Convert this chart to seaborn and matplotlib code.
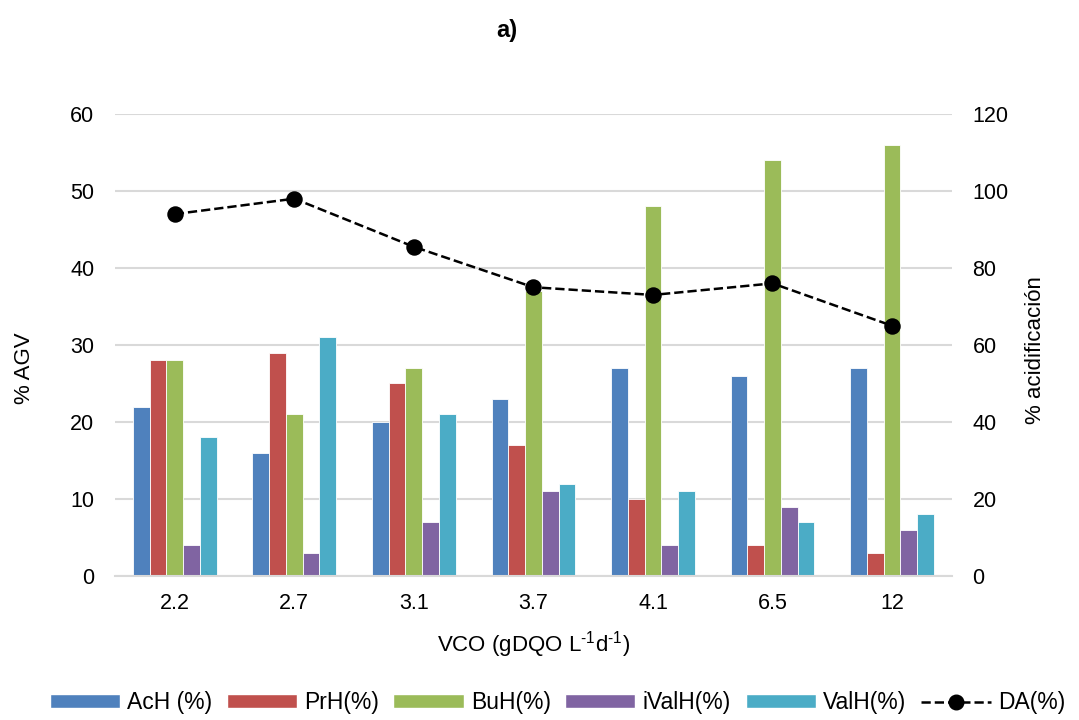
import pandas as pd
import matplotlib
matplotlib.use('Agg')
import matplotlib.pyplot as plt
import seaborn as sns
from matplotlib.patches import Patch
from matplotlib.lines import Line2D

# Datos
vco = ['2.2', '2.7', '3.1', '3.7', '4.1', '6.5', '12']
ach = [22, 16, 20, 23, 27, 26, 27]
prh = [28, 29, 25, 17, 10, 4, 3]
buh = [28, 21, 27, 37, 48, 54, 56]
ivalh = [4, 3, 7, 11, 4, 9, 6]
valh = [18, 31, 21, 12, 11, 7, 8]
da = [94, 98, 85.5, 75, 73, 76, 65]

series = ['AcH (%)', 'PrH(%)', 'BuH(%)', 'iValH(%)', 'ValH(%)']
colores = ['#4F81BD', '#C0504D', '#9BBB59', '#8064A2', '#4BACC6']

df = pd.DataFrame({'VCO': vco, 'AcH (%)': ach, 'PrH(%)': prh, 'BuH(%)': buh,
                   'iValH(%)': ivalh, 'ValH(%)': valh})
df_long = df.melt(id_vars='VCO', var_name='Tipo', value_name='valor')

sns.set_style('white')
plt.rcParams['font.family'] = ['Liberation Sans', 'DejaVu Sans']
plt.rcParams['mathtext.default'] = 'regular'
plt.rcParams['text.color'] = 'black'
plt.rcParams['axes.labelcolor'] = 'black'
plt.rcParams['xtick.color'] = 'black'
plt.rcParams['ytick.color'] = 'black'

fs = 15.5

fig = plt.figure(figsize=(10.79, 7.2), dpi=100)
ax = fig.add_axes([0.1066, 0.2, 0.7755, 0.6417])

sns.barplot(data=df_long, x='VCO', y='valor', hue='Tipo', order=vco, hue_order=series,
            palette=colores, width=0.7, gap=0, ax=ax, edgecolor='white', linewidth=0.6,
            saturation=1, legend=False)

ax.set_ylim(0, 60)
ax.set_yticks(range(0, 61, 10))
ax.yaxis.grid(True, color='#D9D9D9', linewidth=1.5)
ax.set_axisbelow(True)
for s in ['top', 'right', 'left']:
    ax.spines[s].set_visible(False)
ax.spines['bottom'].set_color('#D9D9D9')
ax.spines['bottom'].set_linewidth(1.5)
ax.tick_params(axis='y', length=0, labelsize=fs, pad=15)
ax.tick_params(axis='x', length=0, labelsize=fs, pad=12)
ax.set_xlabel('VCO (gDQO L$^{\u2010' + '1}$d$^{\u2010' + '1}$)', fontsize=fs + 0.5)
ax.xaxis.set_label_coords(0.5, -0.115)
ax.set_ylabel('% AGV', fontsize=fs + 0.5)
ax.yaxis.set_label_coords(-0.096, 0.45)

ax2 = ax.twinx()
sns.pointplot(x=vco, y=da, order=vco, ax=ax2, color='black', linestyles='--',
              markers='o', markersize=10.5, linewidth=1.8)
ax2.set_ylim(0, 120)
ax2.set_yticks(range(0, 121, 20))
ax2.set_xlim(-0.5, len(vco) - 0.5)
for s in ['top', 'right', 'left', 'bottom']:
    ax2.spines[s].set_visible(False)
ax2.tick_params(axis='y', length=0, labelsize=fs, pad=15)
ax2.set_ylabel('% acidificación', fontsize=fs + 0.5)
ax2.yaxis.set_label_coords(1.087, 0.489)
ax2.grid(False)

fig.text(0.47, 0.958, 'a)', fontsize=17, fontweight='bold', ha='center', va='center')

handles = [Patch(facecolor=c, label=s) for c, s in zip(colores, series)]
handles.append(Line2D([0], [0], color='black', linestyle='--', marker='o',
                      markersize=10.5, linewidth=1.8, label='DA(%)'))
fig.legend(handles=handles, loc='center', bbox_to_anchor=(0.5167, 0.024), ncol=6,
           frameon=False, fontsize=fs + 1, handlelength=3.06, handleheight=0.6,
           columnspacing=0.63, handletextpad=0.32, borderaxespad=0, borderpad=0)

plt.savefig('out.png', dpi=100)
plt.close()
